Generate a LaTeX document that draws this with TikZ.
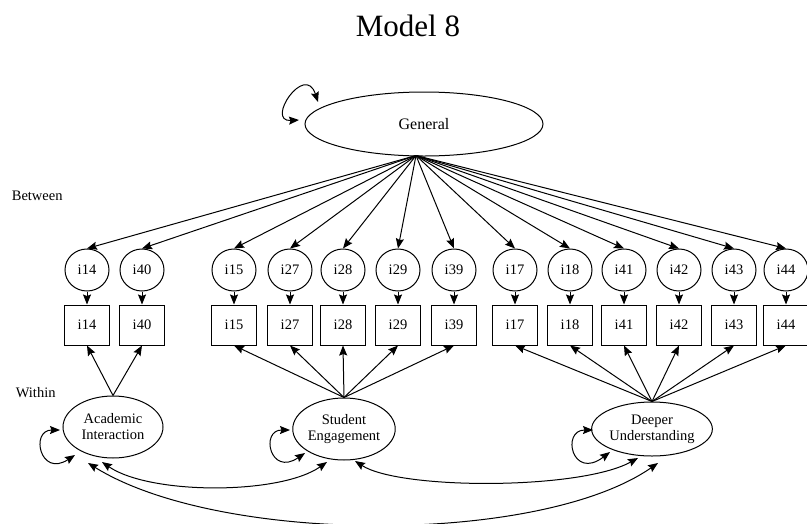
\documentclass[tikz,border=0pt]{standalone}
\usepackage{fontspec}
\setmainfont{Liberation Serif}
\usetikzlibrary{arrows.meta,shapes.geometric,calc}
\begin{document}
\begin{tikzpicture}[x=1pt,y=-1pt,
  line width=1pt,
  ar/.style={-{Stealth[length=10pt,width=8pt,inset=1.5pt]}},
  biar/.style={{Stealth[length=10pt,width=8pt,inset=1.5pt]}-{Stealth[length=10pt,width=8pt,inset=1.5pt]}},
  lbl/.style={font=\fontsize{14.5}{16}\selectfont},
  latent/.style={draw,ellipse,inner sep=0pt,minimum width=44pt,minimum height=42pt,lbl},
  obs/.style={draw,rectangle,inner sep=0pt,minimum width=45pt,minimum height=40pt,lbl},
  factor/.style={draw,ellipse,inner sep=0pt,align=center,lbl}
]
\useasboundingbox (0,0) rectangle (807,523);

\node[anchor=base,font=\fontsize{31}{36}\selectfont] (title) at (408,36) {Model 8};

\node[draw,ellipse,inner sep=0pt,minimum width=238pt,minimum height=64pt,font=\fontsize{16}{18}\selectfont] (gen) at (424,124) {General};
\coordinate (g) at ($(gen.south)+(-8,-1)$);

\node[lbl,anchor=west] (between) at (8,196) {Between};
\node[lbl,anchor=west] (within) at (12,393) {Within};

% latent item circles and observed boxes
\foreach \n/\x in {14/87,40/142,15/234,27/290,28/343,29/398,39/454,17/515,18/570,41/624,42/679,43/734,44/786}{
  \node[latent] (c\n) at (\x,270) {i\n};
  \node[obs] (b\n) at (\x,325) {i\n};
  \draw[ar] (g) -- (c\n.north);
  \draw[ar] (c\n) -- (b\n);
}

% within factors
\node[factor,minimum width=100pt,minimum height=62pt] (ai) at (113,427) {Academic\\Interaction};
\node[factor,minimum width=96pt,minimum height=62pt] (se) at (344,429) {Student\\Engagement};
\node[factor,minimum width=104pt,minimum height=54pt] (du) at (652,429) {Deeper\\Understanding};

\foreach \n in {14,40}{\draw[ar] (ai.north) -- (b\n.south);}
\foreach \n in {15,27,28,29,39}{\draw[ar] (se.north) -- (b\n.south);}
\foreach \n in {17,18,41,42,43,44}{\draw[ar] (du.north) -- (b\n.south);}

% variances (self loops)
\draw[biar] ($(gen)+(-125,-4)$) .. controls ($(gen)+(-159,-2)$) and ($(gen)+(-119,-62)$) .. ($(gen)+(-106,-22)$);
\draw[biar] ($(ai)+(-53,3)$) .. controls ($(ai)+(-83,3)$) and ($(ai)+(-73,51)$) .. ($(ai)+(-38,28)$);
\draw[biar] ($(se)+(-54,1)$) .. controls ($(se)+(-84,1)$) and ($(se)+(-74,48)$) .. ($(se)+(-39,24)$);
\draw[biar] ($(du)+(-59,1)$) .. controls ($(du)+(-91,1)$) and ($(du)+(-80,52)$) .. ($(du)+(-42,23)$);

% covariances
\draw[biar] ($(ai)+(-11,35)$) .. controls +(48,33) and +(-47,33) .. ($(se)+(-17,33)$);
\draw[biar] ($(se)+(11,32)$) .. controls +(45,29) and +(-58,32) .. ($(du)+(-14,29)$);
\draw[biar] ($(ai)+(-25,36)$) .. controls +(132,82) and +(-118,82) .. ($(du)+(6,34)$);
\end{tikzpicture}
\end{document}
